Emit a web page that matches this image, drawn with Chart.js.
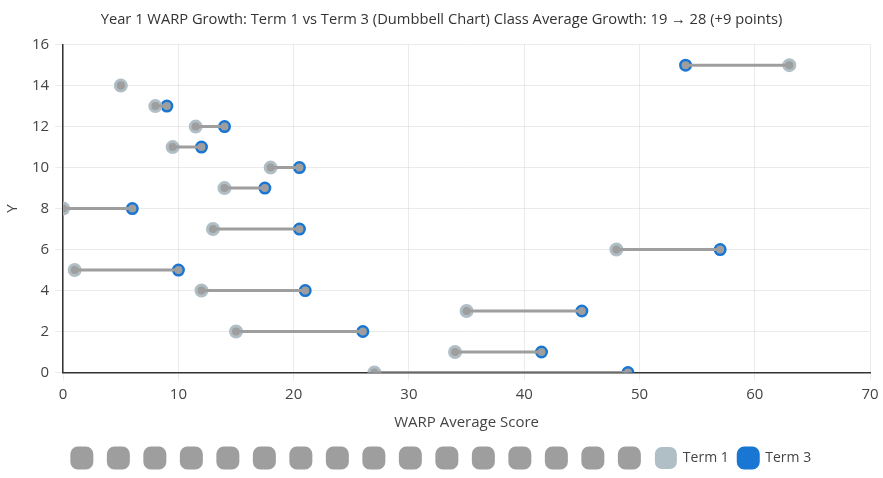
<!DOCTYPE html>
<html>
<head>
<meta charset="utf-8">
<script src="https://cdn.jsdelivr.net/npm/chart.js@4.4.1/dist/chart.umd.min.js"></script>
<style>
  html, body { margin: 0; padding: 0; background: #fff; }
  #wrap { width: 883px; height: 478px; }
</style>
</head>
<body>
<div id="wrap"><canvas id="chart"></canvas></div>
<script>
  // one row per pupil, row index is the y value
  const rows = [0, 1, 2, 3, 4, 5, 6, 7, 8, 9, 10, 11, 12, 13, 14, 15];
  const term1 = [27, 34, 15, 35, 12, 1, 48, 13, 0, 14, 18, 9.5, 11.5, 8, 5, 63];
  const term3 = [49, 41.5, 26, 45, 21, 10, 57, 20.5, 6, 17.5, 20.5, 12, 14, 9, 5, 54];
  const titleText = 'Year 1 WARP Growth: Term 1 vs Term 3 (Dumbbell Chart) Class Average Growth: 19 → 28 (+9 points)';

  const GREY = '#9E9E9E';
  const T1 = '#B0BEC5';
  const T3 = '#1976D2';

  Chart.defaults.font.family = "'Segoe UI', 'Open Sans', 'Noto Sans', sans-serif";
  Chart.defaults.color = '#555';

  const connectors = rows.map(i => ({
    label: '',
    type: 'line',
    data: [{x: term1[i], y: i}, {x: term3[i], y: i}],
    borderColor: GREY,
    backgroundColor: GREY,
    borderWidth: 3,
    pointRadius: 4,
    pointBackgroundColor: GREY,
    pointBorderWidth: 0
  }));

  new Chart(document.getElementById('chart'), {
    type: 'scatter',
    data: {
      datasets: [
        ...connectors,
        {label: 'Term 1', data: rows.map(i => ({x: term1[i], y: i})), backgroundColor: T1, borderColor: T1, borderWidth: 2, pointRadius: 6},
        {label: 'Term 3', data: rows.map(i => ({x: term3[i], y: i})), backgroundColor: T3, borderColor: T3, borderWidth: 3, pointRadius: 5}
      ]
    },
    options: {
      responsive: true,
      maintainAspectRatio: false,
      animation: false,
      plugins: {
        title: {display: true, text: titleText, color: '#333', font: {size: 14.7, weight: 'normal'}, padding: {top: 11, bottom: 16}},
        legend: {
          position: 'bottom',
          labels: {boxWidth: 20, boxHeight: 20, useBorderRadius: true, borderRadius: 6, color: '#444', font: {size: 14}, padding: 9.5}
        },
        tooltip: {enabled: false}
      },
      scales: {
        x: {
          min: 0, max: 70,
          ticks: {stepSize: 10, color: '#444', font: {size: 15}, padding: 5},
          title: {display: true, text: 'WARP Average Score', color: '#444', font: {size: 15}, padding: {top: 5, bottom: 7}},
          grid: {color: 'rgba(0,0,0,0.08)'},
          border: {color: '#333', width: 1.5},
          afterFit: s => { s.paddingRight = 13; }
        },
        y: {
          min: 0, max: 16,
          ticks: {stepSize: 2, color: '#444', font: {size: 15}, padding: 6},
          title: {display: true, text: 'Y', color: '#444', font: {size: 15}},
          grid: {color: 'rgba(0,0,0,0.08)'},
          border: {color: '#333', width: 1.5}
        }
      }
    }
  });
</script>
</body>
</html>
